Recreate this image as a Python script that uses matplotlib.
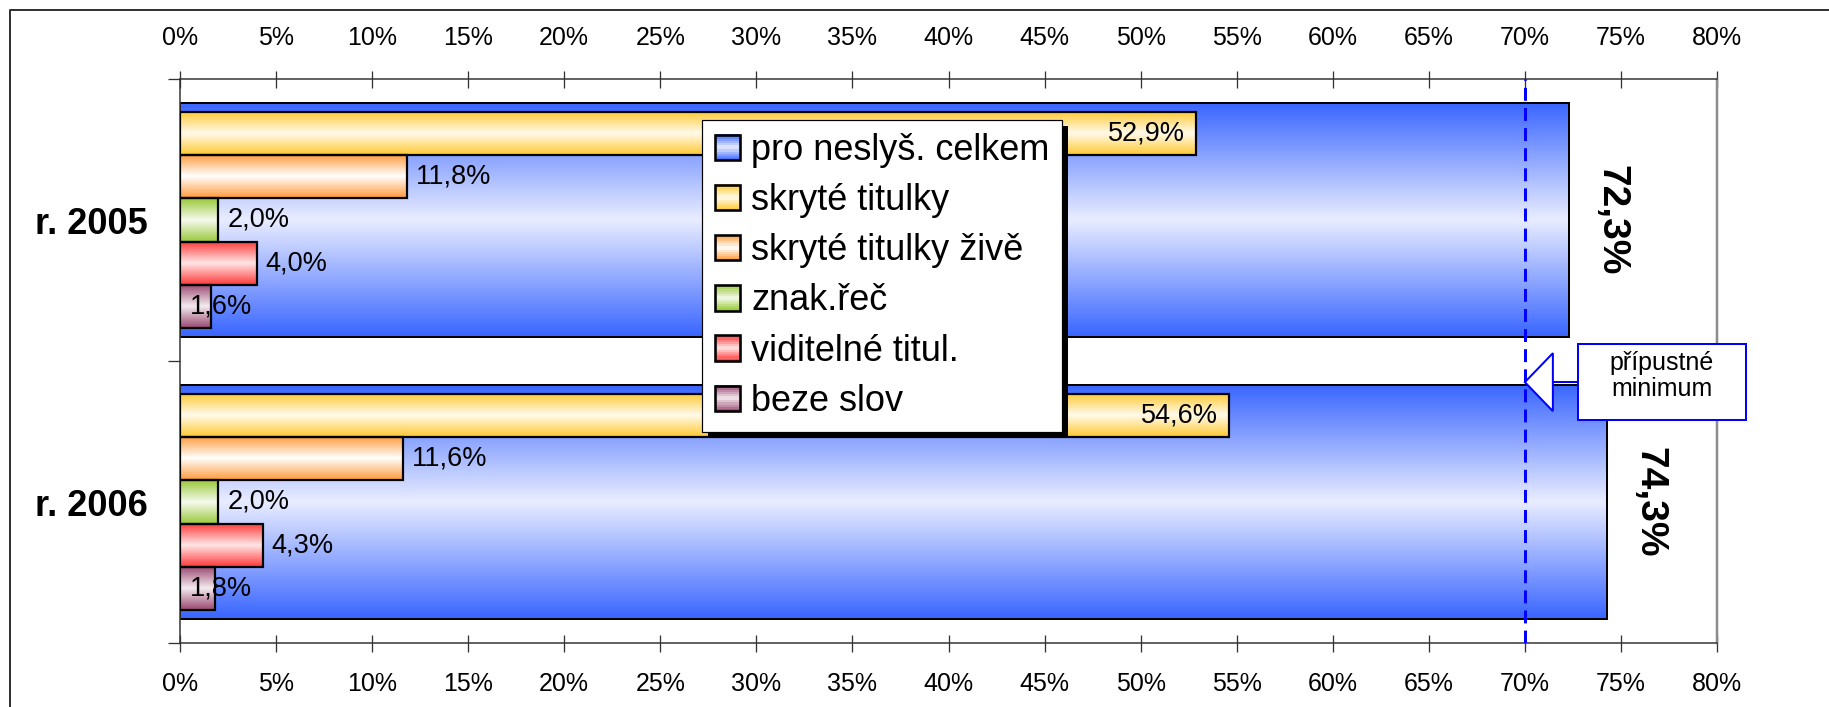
import numpy as np
import matplotlib
matplotlib.use('Agg')
import matplotlib.pyplot as plt
import matplotlib.colors as mcolors
from matplotlib.patches import Rectangle, Polygon
from matplotlib.legend_handler import HandlerBase
from matplotlib.lines import Line2D
from matplotlib.transforms import IdentityTransform

# ---------------- data ----------------
categories = ['r. 2005', 'r. 2006']
series_names = ['pro neslyš. celkem', 'skryté titulky', 'skryté titulky živě',
                'znak.řeč', 'viditelné titul.', 'beze slov']
total = [72.3, 74.3]          # pro neslyš. celkem
skryte = [52.9, 54.6]         # skryté titulky
skryte_zive = [11.8, 11.6]    # skryté titulky živě
znak = [2.0, 2.0]             # znak.řeč
viditelne = [4.0, 4.3]        # viditelné titul.
beze = [1.6, 1.8]             # beze slov
minimum = 70
x_ticks = list(range(0, 81, 5))
x_tick_labels = [f'{t}%' for t in x_ticks]
callout_text = 'přípustné\nminimum'

# ---------------- style ----------------
edge_cols = ['#3A66FF', '#FFC933', '#FF9A3C', '#99C93A', '#FF3838', '#9A4670']
center_cols = ['#E9EDFF', '#FFFAEA', '#FFFFFF', '#F6FAEE', '#FFE6E6', '#F3EBEF']

plt.rcParams['font.family'] = ['Liberation Sans', 'DejaVu Sans']

W, H = 1829, 707
fig = plt.figure(figsize=(W / 100, H / 100), dpi=100)
ax = fig.add_axes([180 / W, 1 - 643 / H, (1717 - 180) / W, (643 - 79) / H])

PX = 0.72  # points per pixel


def grad_img(edge, center, n=96):
    t = np.abs(np.linspace(-1, 1, n))
    e = np.array(mcolors.to_rgb(edge))
    c = np.array(mcolors.to_rgb(center))
    return (c + (e - c) * t[:, None])[:, None, :]


def grad_fill(bars, edge, center, z):
    for p in bars:
        x0, y0, w, h = p.get_x(), p.get_y(), p.get_width(), p.get_height()
        ax.imshow(grad_img(edge, center), extent=(x0, x0 + w, y0, y0 + h),
                  aspect='auto', interpolation='bilinear', zorder=z, origin='lower')
        p.set_zorder(z + 0.05)


ycent = np.arange(len(categories)) + 0.5
big_h = 0.83
small_h = 0.153
val_fs = 19.5

bars = ax.barh(ycent, total, height=big_h, facecolor='none', edgecolor='black', linewidth=2.0 * PX)
grad_fill(bars, edge_cols[0], center_cols[0], 2)

sub_series = [skryte, skryte_zive, znak, viditelne, beze]
for i, vals in enumerate(sub_series):
    offs = (i - 2) * small_h
    b = ax.barh(ycent + offs, vals, height=small_h, facecolor='none', edgecolor='black',
                linewidth=2.2 * PX)
    grad_fill(b, edge_cols[i + 1], center_cols[i + 1], 3)
    for y, v in zip(ycent + offs, vals):
        txt = f'{v:.1f}%'.replace('.', ',')
        if i == 0:
            ax.annotate(txt, (v, y), xytext=(-11 * PX, 0), textcoords='offset points',
                        ha='right', va='center', fontsize=val_fs, zorder=4)
        elif i == len(sub_series) - 1:
            ax.annotate(txt, (0, y), xytext=(10 * PX, 0), textcoords='offset points',
                        ha='left', va='center', fontsize=val_fs, zorder=4)
        else:
            ax.annotate(txt, (v, y), xytext=(9 * PX, 0), textcoords='offset points',
                        ha='left', va='center', fontsize=val_fs, zorder=4)

for y, v in zip(ycent, total):
    ax.annotate(f'{v:.1f}%'.replace('.', ','), (v, y), xytext=(42 * PX, 0),
                textcoords='offset points', rotation=-90, ha='center', va='center',
                fontsize=28, fontweight='bold', zorder=4)

# minimum line
ax.axvline(minimum, color='#0000FF', linewidth=3 * PX, dashes=(4.3, 2.4), zorder=3.5)

# axes
ax.set_xlim(0, 80)
ax.set_ylim(2, 0)
ax.set_xticks(x_ticks)
ax.set_xticklabels(x_tick_labels)
ax.tick_params(axis='x', which='major', top=True, labeltop=True, bottom=True, labelbottom=True,
               direction='inout', length=17 * PX, width=1.3 * PX, color='#333333',
               labelsize=18, pad=14.5)
ax.set_yticks([0, 1, 2])
ax.set_yticklabels([])
ax.tick_params(axis='y', which='major', direction='out', length=12 * PX, width=1.3 * PX,
               color='#333333')
ax.set_yticks(ycent, minor=True)
ax.set_yticklabels(categories, minor=True, fontsize=26, fontweight='bold')
ax.tick_params(axis='y', which='minor', length=0, pad=23)
for s in ['top', 'bottom', 'left']:
    ax.spines[s].set_color('#333333')
    ax.spines[s].set_linewidth(1.5 * PX)
ax.spines['right'].set_color('#8C8C8C')
ax.spines['right'].set_linewidth(2.5 * PX)


# legend with gradient swatches
class GradKey:
    def __init__(self, edge, center):
        self.edge = edge
        self.center = center


class GradHandler(HandlerBase):
    def create_artists(self, legend, orig_handle, xdescent, ydescent, width, height, fontsize, trans):
        e = np.array(mcolors.to_rgb(orig_handle.edge))
        c = np.array(mcolors.to_rgb(orig_handle.center))
        s = min(width, height)
        x0 = -xdescent + (width - s) / 2
        y0 = -ydescent + (height - s) / 2
        arts = []
        n = 12
        for k in range(n):
            t = abs((k + 0.5) / n * 2 - 1)
            col = c + (e - c) * t
            arts.append(Rectangle((x0, y0 + k * s / n), s, s / n + 0.3, facecolor=col,
                                  edgecolor='none', transform=trans))
        arts.append(Rectangle((x0, y0), s, s, facecolor='none', edgecolor='black',
                              linewidth=2.6 * PX, transform=trans))
        return arts


handles = [GradKey(e, c) for e, c in zip(edge_cols, center_cols)]
leg = ax.legend(handles, series_names, handler_map={GradKey: GradHandler()},
                loc='upper left', bbox_to_anchor=(702 / W, 1 - 120 / H),
                bbox_transform=fig.transFigure, borderaxespad=0, fontsize=26,
                handlelength=0.7, handleheight=0.7, handletextpad=0.3, borderpad=0.36,
                labelspacing=0.42, fancybox=False, framealpha=1, edgecolor='black')
leg.get_frame().set_linewidth(1.2 * PX)
leg.set_zorder(6)

fig.canvas.draw()
bb = leg.get_window_extent(fig.canvas.get_renderer())
shadow = Rectangle((bb.x0 + 6, bb.y0 - 6), bb.width, bb.height, facecolor='black',
                   edgecolor='none', transform=IdentityTransform(), zorder=5.9, clip_on=False)
ax.add_artist(shadow)

# callout "přípustné minimum"
tip_y = 1.075
tx, ty = ax.transData.transform((minimum, tip_y))


def P(dx, dy):
    return (tx + dx, ty - dy)


tri = Polygon([P(0, 0), P(28, -29), P(28, 29)], closed=True, facecolor='white',
              edgecolor='#0000FF', linewidth=2 * PX, transform=IdentityTransform(),
              zorder=7, clip_on=False)
ax.add_artist(tri)
ax.add_artist(Line2D([tx + 28, tx + 53], [ty, ty], color='#0000FF', linewidth=2 * PX,
                     transform=IdentityTransform(), zorder=7, clip_on=False))
bx0, by0 = P(53, 38)
ax.add_artist(Rectangle((bx0, by0), 168, 76, facecolor='white', edgecolor='#0000FF',
                        linewidth=2 * PX, transform=IdentityTransform(), zorder=7,
                        clip_on=False))
cx, cy = P(137, -6)
ax.text(cx, cy, callout_text, transform=IdentityTransform(), ha='center', va='center',
        fontsize=18, linespacing=1.1, zorder=8, clip_on=False)

# outer frame
fig.add_artist(Line2D([10 / W, 10 / W, 1], [0, 1 - 10 / H, 1 - 10 / H],
                      transform=fig.transFigure, color='#333333', linewidth=2 * PX))

fig.savefig('out.png', dpi=100)
